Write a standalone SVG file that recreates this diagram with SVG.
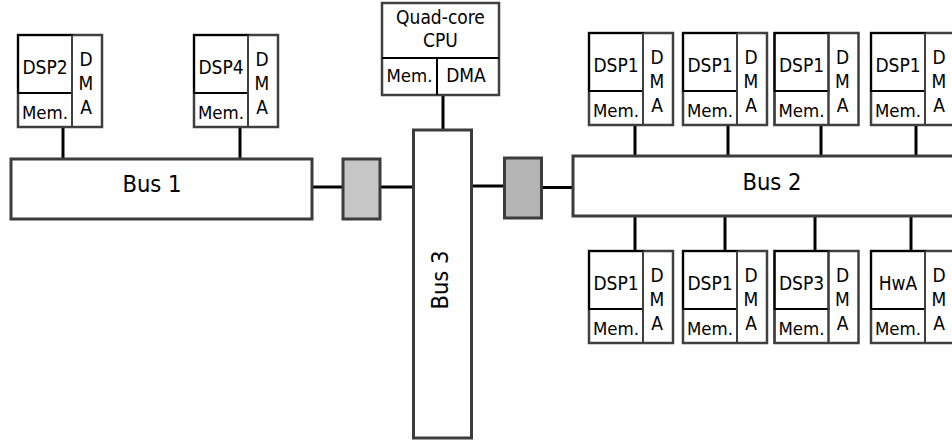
<svg xmlns="http://www.w3.org/2000/svg" width="952" height="440" viewBox="0 0 952 440">
<style>
text{font-family:"DejaVu Sans Condensed","DejaVu Sans",sans-serif;font-stretch:semi-condensed;font-size:19px;fill:#000;text-anchor:middle}
.big{font-size:23.5px}
.out{fill:#fff;stroke:#404040;stroke-width:2.5}
.in{fill:none;stroke:#000;stroke-width:2}
.mem{fill:none;stroke:#404040;stroke-width:2}
.bus{fill:#fff;stroke:#3c3c3c;stroke-width:3}
.br1{fill:#c6c6c6;stroke:#3c3c3c;stroke-width:3}
.br2{fill:#b4b4b4;stroke:#3c3c3c;stroke-width:3}
.c{stroke:#000;stroke-width:3;fill:none}
</style>
<defs>
<g id="pe">
<rect class="out" x="0" y="0" width="84" height="92"/>
<rect class="mem" x="0" y="58" width="54" height="34"/>
<rect class="in" x="0" y="0" width="54" height="58"/>
<line class="mem" x1="54" y1="0" x2="54" y2="92"/>
<text x="27" y="83.5" style="font-size:18.5px">Mem.</text>
<text x="68" y="31">D</text>
<text x="68" y="55">M</text>
<text x="68" y="78.5">A</text>
</g>
</defs>
<g id="connectors">
<line class="c" x1="63" y1="127" x2="63" y2="159"/>
<line class="c" x1="240" y1="127" x2="240" y2="159"/>
<line class="c" x1="443" y1="95" x2="443" y2="130"/>
<line class="c" x1="312" y1="187" x2="343" y2="187"/>
<line class="c" x1="380" y1="187" x2="414" y2="187"/>
<line class="c" x1="471" y1="186" x2="504" y2="186"/>
<line class="c" x1="542" y1="187.5" x2="573" y2="187.5"/>
<line class="c" x1="635" y1="125" x2="635" y2="156"/>
<line class="c" x1="728" y1="125" x2="728" y2="156"/>
<line class="c" x1="821" y1="125" x2="821" y2="156"/>
<line class="c" x1="916" y1="125" x2="916" y2="156"/>
<line class="c" x1="635" y1="216" x2="635" y2="251"/>
<line class="c" x1="725" y1="216" x2="725" y2="251"/>
<line class="c" x1="815" y1="216" x2="815" y2="251"/>
<line class="c" x1="911" y1="216" x2="911" y2="251"/>
</g>
<g id="bus1"><rect class="bus" x="11" y="159" width="301" height="60"/><text class="big" x="152" y="192">Bus 1</text></g>
<g id="bus2"><rect class="bus" x="573" y="156" width="400" height="60"/><text class="big" x="772" y="189.5">Bus 2</text></g>
<g id="bus3"><rect class="bus" x="413.5" y="130" width="58" height="308"/><text class="big" transform="translate(447.5,280) rotate(-90)">Bus 3</text></g>
<g id="bridge1"><rect class="br1" x="343" y="159" width="37" height="60"/></g>
<g id="bridge2"><rect class="br2" x="504.5" y="158" width="37" height="60"/></g>
<g id="cpu">
<rect class="out" x="382" y="3" width="117" height="92"/>
<line class="in" x1="382" y1="58" x2="499" y2="58"/>
<line class="in" x1="437" y1="58" x2="437" y2="95"/>
<text x="440.5" y="24">Quad-core</text>
<text x="440.5" y="47">CPU</text>
<text x="409.5" y="82" style="font-size:18.5px">Mem.</text>
<text x="466" y="82">DMA</text>
</g>
<g id="dsp2" transform="translate(18,35)"><use href="#pe"/><text x="27" y="38.5">DSP2</text></g>
<g id="dsp4" transform="translate(194,35)"><use href="#pe"/><text x="27" y="38.5">DSP4</text></g>
<g id="dsp1a" transform="translate(589,33)"><use href="#pe"/><text x="27" y="38.5">DSP1</text></g>
<g id="dsp1b" transform="translate(683,33)"><use href="#pe"/><text x="27" y="38.5">DSP1</text></g>
<g id="dsp1c" transform="translate(774.5,33)"><use href="#pe"/><text x="27" y="38.5">DSP1</text></g>
<g id="dsp1d" transform="translate(871,33)"><use href="#pe"/><text x="27" y="38.5">DSP1</text></g>
<g id="dsp1e" transform="translate(589,251)"><use href="#pe"/><text x="27" y="39">DSP1</text></g>
<g id="dsp1f" transform="translate(683,251)"><use href="#pe"/><text x="27" y="39">DSP1</text></g>
<g id="dsp3" transform="translate(774.5,251)"><use href="#pe"/><text x="27" y="39">DSP3</text></g>
<g id="hwa" transform="translate(871,251)"><use href="#pe"/><text x="27" y="39">HwA</text></g>
</svg>
